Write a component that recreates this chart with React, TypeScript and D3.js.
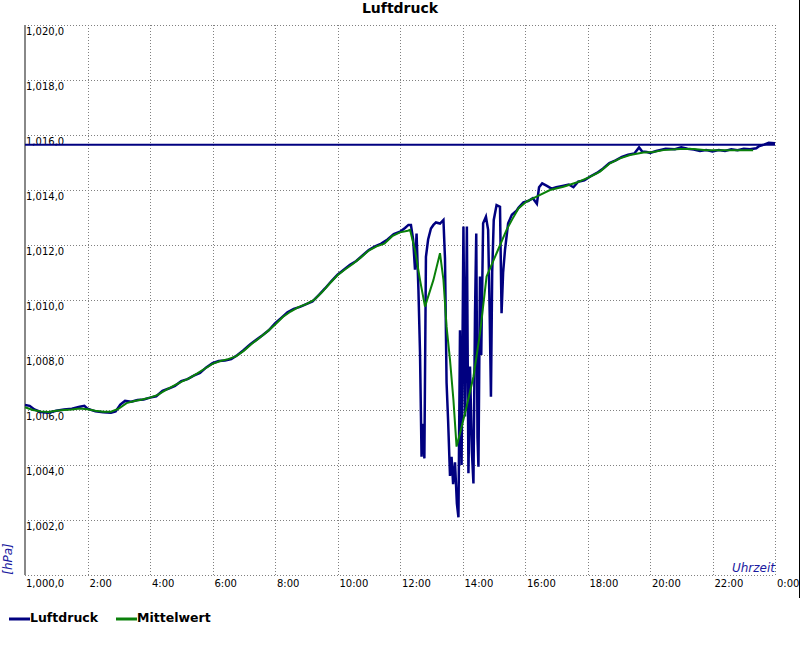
import * as d3 from 'd3';

// Luftdruck (raw readings), time in hours since midnight
const LUFT_T = [
  0, 0.15, 0.3, 0.5, 0.75, 1.0, 1.25, 1.5, 1.75, 1.9, 2.0, 2.25, 2.5, 2.75, 2.9, 3.05, 3.2, 3.4, 3.6, 3.8,
  4.0, 4.2, 4.4, 4.6, 4.8, 5.0, 5.2, 5.4, 5.6, 5.8, 6.0, 6.2, 6.4, 6.6, 6.8, 7.0, 7.2, 7.4, 7.6, 7.8,
  8.0, 8.2, 8.4, 8.6, 8.8, 9.0, 9.2, 9.4, 9.6, 9.8, 10.0, 10.2, 10.4, 10.6, 10.8, 11.0, 11.2, 11.4, 11.6, 11.8,
  12.0, 12.16, 12.27, 12.35, 12.42, 12.48, 12.53, 12.59, 12.64, 12.69, 12.74, 12.78, 12.83, 12.9, 12.99,
  13.07, 13.15, 13.28, 13.39, 13.44, 13.49, 13.54, 13.6, 13.65, 13.7, 13.76, 13.82, 13.87, 13.92, 13.97,
  14.03, 14.08, 14.14, 14.19, 14.24, 14.3, 14.35, 14.4, 14.44, 14.48, 14.51, 14.56, 14.6, 14.66, 14.75,
  14.82, 14.87, 14.91, 14.95, 15.0, 15.09, 15.2, 15.25, 15.3, 15.36, 15.46, 15.58, 15.73,
  15.79, 15.95, 16.1, 16.25, 16.38, 16.45, 16.55, 16.7, 16.85, 17.0, 17.2, 17.4, 17.55, 17.7, 17.9,
  18.1, 18.3, 18.5, 18.7, 18.9, 19.1, 19.3, 19.5, 19.65, 19.75, 19.9, 20.0, 20.2, 20.5, 20.8,
  21.0, 21.2, 21.4, 21.6, 21.8, 22.0, 22.2, 22.4, 22.6, 22.8, 23.0, 23.2, 23.4, 23.5, 23.65, 23.8, 24.0,
];
const LUFT_V = [
  1006.18, 1006.15, 1006.02, 1005.93, 1005.9, 1005.97, 1006.02, 1006.05, 1006.12, 1006.15, 1006.05, 1005.95, 1005.92, 1005.9, 1005.95, 1006.2, 1006.33, 1006.3, 1006.36, 1006.38,
  1006.45, 1006.5, 1006.7, 1006.78, 1006.88, 1007.05, 1007.12, 1007.25, 1007.35, 1007.55, 1007.7, 1007.78, 1007.8, 1007.85, 1008.0, 1008.18, 1008.38, 1008.55, 1008.72, 1008.9,
  1009.15, 1009.35, 1009.55, 1009.68, 1009.75, 1009.85, 1009.95, 1010.18, 1010.42, 1010.68, 1010.92, 1011.1, 1011.28, 1011.42, 1011.62, 1011.82, 1011.95, 1012.05, 1012.2, 1012.4,
  1012.48, 1012.62, 1012.73, 1012.73, 1012.2, 1011.1, 1012.42, 1010.36, 1008.1, 1004.3, 1005.5, 1004.24, 1011.57, 1012.2, 1012.6,
  1012.73, 1012.82, 1012.78, 1012.91, 1011.5, 1007.0, 1005.6, 1003.6, 1004.3, 1003.3, 1004.1, 1002.6, 1002.1, 1008.9, 1004.0,
  1012.67, 1005.76, 1012.67, 1003.7, 1007.58, 1004.5, 1003.33, 1009.5, 1012.42, 1005.0, 1003.94, 1010.85, 1008.0, 1012.79, 1013.03,
  1012.55, 1009.5, 1006.48, 1011.0, 1012.91, 1013.45, 1013.39, 1009.52, 1011.0, 1011.82, 1012.79, 1013.1, 1013.25,
  1013.35, 1013.55, 1013.6, 1013.7, 1013.5, 1014.1, 1014.24, 1014.15, 1014.05, 1014.1, 1014.15, 1014.2, 1014.1, 1014.3, 1014.35,
  1014.5, 1014.62, 1014.78, 1014.98, 1015.08, 1015.2, 1015.28, 1015.33, 1015.55, 1015.4, 1015.38, 1015.35, 1015.42, 1015.5, 1015.48,
  1015.55, 1015.5, 1015.47, 1015.42, 1015.45, 1015.4, 1015.45, 1015.42, 1015.48, 1015.45, 1015.5, 1015.48, 1015.52, 1015.6, 1015.65, 1015.72, 1015.7,
];

// Mittelwert (smoothed)
const MITTEL_T = [
  0, 0.25, 0.5, 0.75, 1.0, 1.25, 1.5, 1.75, 2.0, 2.25, 2.5, 2.75, 3.0, 3.25, 3.5, 3.75, 4.0, 4.25, 4.5, 4.75,
  5.0, 5.25, 5.5, 5.75, 6.0, 6.25, 6.5, 6.75, 7.0, 7.25, 7.5, 7.75, 8.0, 8.25, 8.5, 8.75, 9.0, 9.25, 9.5, 9.75,
  10.0, 10.25, 10.5, 10.75, 11.0, 11.25, 11.5, 11.75, 12.0, 12.25, 12.32, 12.48, 12.64, 12.8, 13.07, 13.28, 13.39,
  13.49, 13.6, 13.71, 13.81, 13.92, 14.13, 14.35, 14.56, 14.77, 15.09, 15.41, 15.6, 15.79, 16.05, 16.37, 16.8,
  17.23, 17.65, 18.08, 18.4, 18.72, 19.04, 19.36, 19.79, 20.1, 20.43, 20.96, 21.39, 21.81, 22.45, 23.3,
];
const MITTEL_V = [
  1006.1, 1006.0, 1005.95, 1005.93, 1005.97, 1006.0, 1006.02, 1006.05, 1006.03, 1005.97, 1005.94, 1005.94, 1006.05, 1006.25, 1006.33, 1006.38, 1006.45, 1006.55, 1006.72, 1006.88,
  1007.02, 1007.15, 1007.32, 1007.5, 1007.68, 1007.78, 1007.85, 1007.95, 1008.15, 1008.4, 1008.62, 1008.85, 1009.1, 1009.38, 1009.58, 1009.74, 1009.85, 1010.0, 1010.28, 1010.6,
  1010.9, 1011.12, 1011.32, 1011.55, 1011.8, 1011.95, 1012.05, 1012.32, 1012.46, 1012.52, 1012.55, 1011.82, 1010.73, 1009.76, 1010.73, 1011.7, 1010.73,
  1009.03, 1007.82, 1006.36, 1004.67, 1005.15, 1006.12, 1007.21, 1008.79, 1010.85, 1011.7, 1012.55, 1012.95, 1013.33, 1013.58, 1013.76, 1014.0,
  1014.12, 1014.27, 1014.48, 1014.67, 1014.97, 1015.15, 1015.27, 1015.36, 1015.38, 1015.45, 1015.49, 1015.49, 1015.45, 1015.45, 1015.45,
];

const REF_LEVEL = 1015.65;

const Y_TICKS = [1000, 1002, 1004, 1006, 1008, 1010, 1012, 1014, 1016, 1018, 1020];
const X_TICKS = [2, 4, 6, 8, 10, 12, 14, 16, 18, 20, 22, 24];
const X_GRID = [0, 2, 4, 6, 8, 10, 12, 14, 16, 18, 20, 22, 24];

const LEGEND = [
  { label: 'Luftdruck', color: '#000080' },
  { label: 'Mittelwert', color: '#0a800a' },
];

const W = 800;
const H = 650;
const PLOT = { left: 25, top: 25, right: 775, bottom: 575 };
const FONT = 'DejaVu Sans, Verdana, sans-serif';
const NAVY = '#000080';
const GREEN = '#0a800a';
const AXIS_BLUE = '#1a1aa0';

const de = d3.formatLocale({ decimal: ',', thousands: ',', grouping: [3], currency: ['', ''] });
const fmtY = de.format(',.1f');

const x = d3.scaleLinear().domain([0, 24]).range([PLOT.left, PLOT.right]);
const y = d3.scaleLinear().domain([1000, 1020]).range([PLOT.bottom, PLOT.top]);

const line = d3.line<[number, number]>().x(d => x(d[0])).y(d => y(d[1]));

const luftPts = LUFT_T.map((t, i) => [t, LUFT_V[i]] as [number, number]);
const mittelPts = MITTEL_T.map((t, i) => [t, MITTEL_V[i]] as [number, number]);

export default function App() {
  return (
    <svg width={W} height={H} viewBox={`0 0 ${W} ${H}`}
      style={{ position: 'absolute', left: 0, top: 0, background: '#fff' }}>
      <rect x={0} y={0} width={W} height={H} fill="#fff" />

      <text x={400} y={13} textAnchor="middle" fontSize={14} fontWeight={700} fontFamily={FONT} fill="#000">
        Luftdruck
      </text>

      {/* grid */}
      {Y_TICKS.map(v => (
        <line key={`gy${v}`} x1={PLOT.left} x2={PLOT.right} y1={Math.round(y(v)) + 0.5} y2={Math.round(y(v)) + 0.5}
          stroke="#808080" strokeDasharray="1,2" />
      ))}
      {X_GRID.map(t => (
        <line key={`gx${t}`} x1={Math.round(x(t)) + 0.5} x2={Math.round(x(t)) + 0.5} y1={PLOT.top} y2={PLOT.bottom}
          stroke="#808080" strokeDasharray="1,2" />
      ))}

      <line x1={PLOT.left} x2={PLOT.left} y1={PLOT.top} y2={PLOT.bottom} stroke="#888" strokeWidth={2} />

      {/* y labels inside plot */}
      {Y_TICKS.map(v => (
        <text key={`ly${v}`} x={PLOT.left + 1} y={y(v) + (v === 1000 ? 12 : 10)} fontSize={10} fontFamily={FONT} fill="#000">
          {fmtY(v)}
        </text>
      ))}

      {X_TICKS.map(t => (
        <text key={`lx${t}`} x={x(t) + 2} y={PLOT.bottom + 12} fontSize={10} fontFamily={FONT} fill="#000">
          {`${t % 24}:00`}
        </text>
      ))}

      <text x={PLOT.right} y={572} textAnchor="end" fontSize={12} fontStyle="italic" fontFamily={FONT} fill={AXIS_BLUE}>
        Uhrzeit
      </text>
      <text transform="translate(12, 559) rotate(-90)" textAnchor="middle" fontSize={12} fontStyle="italic"
        fontFamily={FONT} fill={AXIS_BLUE}>
        [hPa]
      </text>

      {/* series */}
      <line x1={x(0)} x2={x(24)} y1={y(REF_LEVEL)} y2={y(REF_LEVEL)} stroke={NAVY} strokeWidth={2} />
      <path d={line(luftPts) ?? ''} fill="none" stroke={NAVY} strokeWidth={2.5} strokeLinejoin="miter" />
      <path d={line(mittelPts) ?? ''} fill="none" stroke={GREEN} strokeWidth={2} />

      <line x1={799.5} x2={799.5} y1={0} y2={598} stroke="#000" />

      {/* legend */}
      {LEGEND.map((item, i) => (
        <g key={item.label} transform={`translate(${9 + i * 107}, 619)`}>
          <line x1={0} x2={21} y1={0} y2={0} stroke={item.color} strokeWidth={3} />
          <text x={21} y={3} fontSize={12.5} fontWeight={700} fontFamily={FONT} fill="#000">
            {item.label}
          </text>
        </g>
      ))}
    </svg>
  );
}
